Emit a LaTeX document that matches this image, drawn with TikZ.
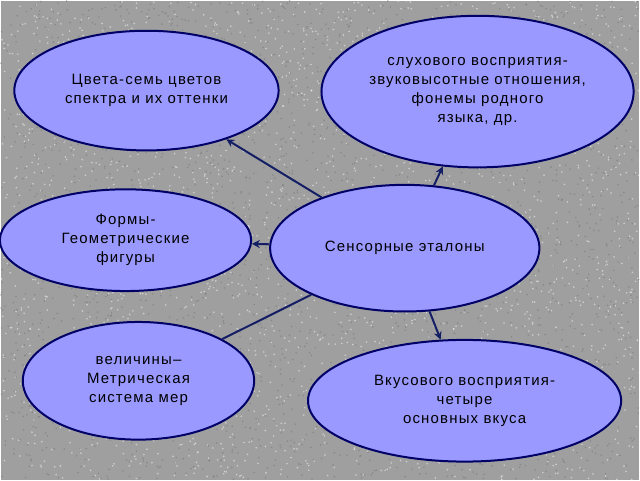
\documentclass[tikz,border=0pt]{standalone}
\usepackage{fontspec}
\setmainfont[LetterSpace=8]{Liberation Sans}
\usetikzlibrary{shapes.geometric,arrows.meta}

\tikzset{
  oval/.style={ellipse,draw=blue!40!black,line width=2pt,fill={rgb,255:red,153;green,153;blue,255},
    align=center,font=\fontsize{15}{19}\selectfont,inner sep=0pt},
  link/.style={draw={rgb,255:red,20;green,30;blue,100},line width=2pt,-{Stealth[length=8pt,width=8pt]}},
}

\begin{document}
\begin{tikzpicture}[x=1pt,y=-1pt]
  \fill[gray!75] (0,0) rectangle (640,480);
  % grain
  \pgfmathsetseed{7}
  \foreach \i in {1,...,2500}{
    \fill[black!55,opacity=.5] ({rnd*640},{rnd*480}) circle (0.9);
    \fill[white,opacity=.5] ({rnd*640},{rnd*480}) circle (0.9);
  }
  \useasboundingbox (0,0) rectangle (640,480);

  \node[oval,minimum width=265,minimum height=120] (cvet) at (146,90) {Цвета-семь цветов\\спектра и их оттенки};
  \node[oval,minimum width=313,minimum height=152] (sluh) at (478,91) {слухового восприятия-\\звуковысотные отношения,\\фонемы родного\\языка, др.};
  \node[oval,minimum width=252,minimum height=102] (form) at (125,240) {Формы-\\Геометрические\\фигуры};
  \node[oval,minimum width=270,minimum height=127] (sens) at (405,248) {Сенсорные эталоны};
  \node[oval,minimum width=232,minimum height=118] (velic) at (138,381) {величины--\\Метрическая\\система мер};
  \node[oval,minimum width=314,minimum height=122] (vkus) at (465,401) {Вкусового восприятия-\\четыре\\основных вкуса};

  \draw[link] (sens) -- (cvet);
  \draw[link] (sens) -- (sluh);
  \draw[link] (sens) -- (form);
  \draw[link,-] (sens) -- (velic);
  \draw[link] (sens) -- (vkus);
\end{tikzpicture}
\end{document}
